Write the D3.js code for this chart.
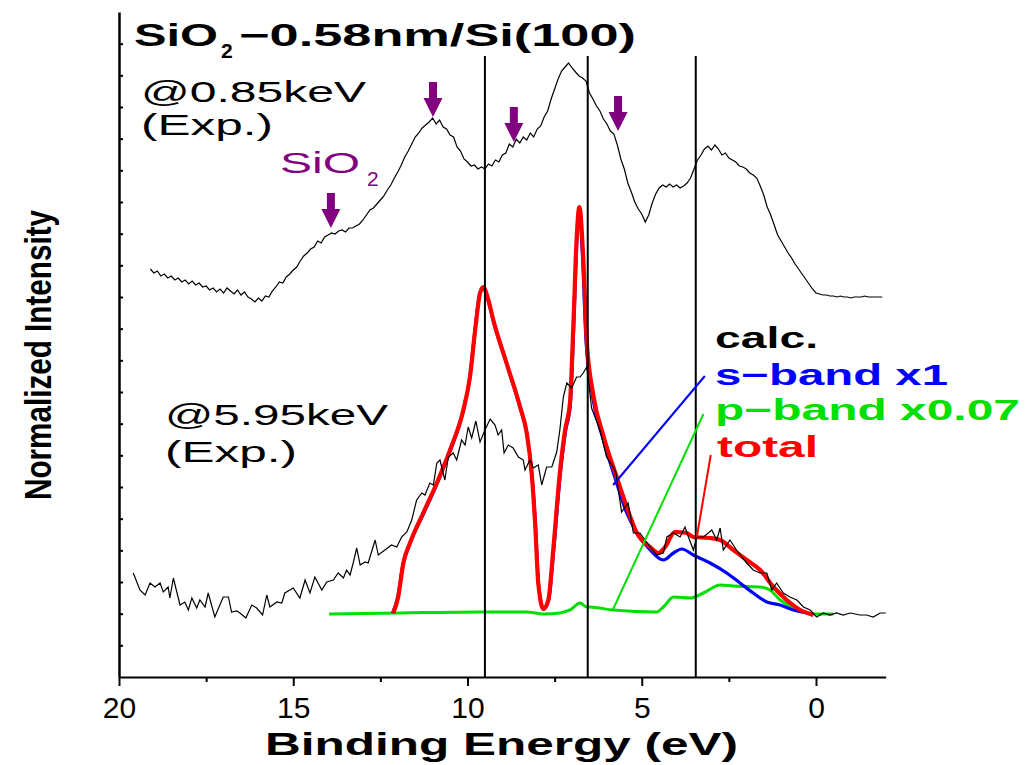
<!DOCTYPE html>
<html><head><meta charset="utf-8">
<script src="https://cdn.jsdelivr.net/npm/d3@7"></script>
<style>body{margin:0;background:#fff}</style>
</head><body><svg id="c" width="1025" height="765"></svg>
<script>
// ---------- data ----------
const xTickMajor = [20, 15, 10, 5, 0];
const xTickMinor = [17.5, 12.5, 7.5, 2.5];
const yMax = 665;            // arbitrary intensity units
const yTickCount = 21;
const markerLines = [9.5, 6.55, 3.45];
const markerTop = 621;

// 0.85 keV experimental spectrum (from 19.1 eV, step 0.1 eV)
const topStartE = 19.1, topStepE = 0.1;
const topH = [
 408,404,406,401,403,399,401,397,399,395,
 397,393,396,392,394,390,391,387,389,385,
 388,384,389,386,383,387,382,385,380,378,
 375,379,376,381,380,386,390,395,394,400,
 403,407,410,416,421,424,428,430,436,434,
 440,442,444,443,446,447,445,449,449,451,
 453,457,462,467,469,473,477,481,487,492,
 499,505,512,520,526,533,540,544,549,552,
 555,559,553,557,550,548,542,540,530,526,
 518,515,511,512,508,510,508,513,511,517,
 515,522,524,533,530,538,534,540,537,544,
 540,548,551,560,566,578,588,598,606,610,
 614,609,605,601,599,596,584,578,571,566,
 558,553,546,543,532,518,508,494,485,475,
 468,463,455,462,474,483,489,492,490,493,
 490,492,489,491,494,499,508,517,522,528,
 531,527,532,528,522,524,519,517,515,511,
 510,508,504,502,499,491,482,470,462,452,
 442,436,430,424,419,413,408,403,398,393,
 388,384,383,382,382,381,381,380,381,380,
 380,379,380,380,380,381,380,380,380,380,
 380];

// 5.95 keV experimental spectrum
const bottomE = [19.59,19.40,19.25,19.11,18.97,18.82,18.73,18.59,18.54,18.44,
 18.25,18.11,18.01,17.91,17.77,17.68,17.53,17.44,17.25,17.01,
 16.86,16.77,16.62,16.53,16.36,16.19,16.05,15.88,15.76,15.67,
 15.47,15.33,15.24,15.00,14.81,14.66,14.52,14.38,14.18,14.04,
 13.85,13.71,13.56,13.47,13.37,13.28,13.18,13.08,12.94,12.85,
 12.65,12.56,12.37,12.18,12.03,11.89,11.74,11.60,11.46,11.31,
 11.22,11.08,10.98,10.88,10.79,10.65,10.55,10.41,10.31,10.17,
 10.07,9.98,9.88,9.76,9.64,9.50,9.35,9.21,9.12,9.02,
 8.95,8.83,8.69,8.54,8.40,8.35,8.21,8.11,7.97,7.87,
 7.73,7.58,7.44,7.35,7.25,7.15,7.01,6.87,6.77,6.68,
 6.58,6.53,6.44,6.20,6.01,5.82,5.74,5.58,5.39,5.24,
 5.05,4.76,4.57,4.38,4.28,4.09,3.90,3.76,3.66,3.52,
 3.42,3.23,2.99,2.85,2.75,2.66,2.47,2.28,2.13,1.99,
 1.80,1.61,1.41,1.27,1.13,0.94,0.75,0.55,0.36,0.17,
 -0.02,-0.21,-0.40,-0.59,-0.78,-0.98,-1.26,-1.45,-1.64,-1.84,
 -2.0];
const bottomH = [104,87,82,94,90,94,85,90,79,99,
 72,75,67,79,69,77,70,84,60,80,
 80,65,66,64,59,72,69,62,82,70,
 75,74,84,89,79,97,84,100,87,95,
 97,104,99,107,102,114,129,112,115,114,
 137,122,127,132,130,140,145,157,177,184,
 182,194,192,214,217,197,220,224,217,237,
 232,250,239,256,235,247,258,252,242,247,
 224,232,229,220,217,207,217,209,212,192,
 210,210,225,247,280,294,289,300,300,304,
 310,297,269,247,220,210,204,165,174,144,
 144,130,122,124,140,144,140,150,140,127,
 140,140,147,137,149,127,137,127,120,114,
 107,104,104,87,94,84,80,77,70,67,
 60,64,62,64,62,64,62,62,60,64,
 64];

// calc. total
const redE = [12.13,11.99,11.84,11.65,11.27,10.88,10.50,10.12,9.93,9.78,
 9.64,9.55,9.40,9.26,8.88,8.49,8.30,8.16,8.06,7.97,
 7.82,7.68,7.54,7.35,7.20,7.06,6.96,6.87,6.79,6.68,
 6.58,6.39,6.10,5.72,5.43,5.14,4.76,4.52,4.33,4.05,
 3.71,3.52,3.04,2.75,2.37,1.99,1.60,1.22,0.84,0.45,0.08];
const redH = [64,80,114,134,164,194,227,267,300,347,
 384,390,377,357,314,270,244,204,154,94,
 68,77,127,204,247,274,354,437,470,420,
 337,282,241,200,170,144,130,124,130,145,
 144,140,139,137,127,117,107,90,77,67,62];
// calc. s-band x1
const blueE = [12.15,12.0,11.85,11.66,11.28,10.89,10.51,10.13,9.94,9.79,
 9.65,9.55,9.40,9.25,8.87,8.48,8.29,8.15,8.05,7.96,
 7.82,7.67,7.53,7.34,7.19,7.05,6.95,6.86,6.79,6.70,
 6.60,6.41,6.10,5.72,5.43,5.14,4.76,4.38,4.09,3.85,
 3.52,3.04,2.56,2.18,1.80,1.41,1.03,0.65,0.27,0.08];
const blueH = [64,80,113,133,162,192,225,265,298,345,
 383,389,375,355,312,268,242,202,152,92,
 68,77,125,202,245,272,352,437,466,420,
 337,280,237,194,164,144,127,117,124,128,
 122,114,104,94,84,75,72,67,64,62];
// calc. p-band x0.07
const greenE = [13.97,11.94,9.56,8.30,7.82,7.35,7.15,7.06,6.77,6.58,
 6.49,5.82,4.57,4.38,4.09,3.61,3.23,2.75,2.37,1.61,
 1.32,1.03,0.65,0.08,-0.50];
const greenH = [63,64,65,65,63,64,66,67,74,70,
 70,67,65,70,80,79,84,92,91,90,
 87,77,70,63,63];

// SiO2 arrows (tip positions)
const arrowE = [13.92, 10.99, 8.67, 5.68];
const arrowH = [449, 560, 535, 546];

// legend leader lines
const leaderColors = ["#0000ff", "#00e000", "#ff0000"];
const leaderFromE = [3.19, 3.23, 3.02];
const leaderFromH = [301, 263, 222];
const leaderToE = [5.82, 5.82, 3.42];
const leaderToH = [192, 68, 140];

const legendLabels = ["calc.", "s\u2212band x1", "p\u2212band x0.07", "total"];
const legendColors = ["#000000", "#0000ff", "#00e000", "#ff0000"];

// ---------- drawing ----------
const svg = d3.select("#c");
const FONT = "'Liberation Sans', Arial, sans-serif";
svg.append("rect").attr("width", 1025).attr("height", 765).attr("fill", "#fff");

const x = d3.scaleLinear().domain([20, -2]).range([119, 885.7]);
const y = d3.scaleLinear().domain([0, yMax]).range([677, 12]);

const pts = (E, H) => E.map((e, i) => [e, H[i]]);
const topE = topH.map((_, i) => +(topStartE - topStepE * i).toFixed(2));

const smooth = d3.line().x(d => x(d[0])).y(d => y(d[1])).curve(d3.curveMonotoneX);
const rough = d3.line().x(d => x(d[0])).y(d => y(d[1]));

// calc curves
svg.append("path").attr("d", smooth(pts(greenE, greenH))).attr("fill", "none")
  .attr("stroke", "#00e000").attr("stroke-width", 3).attr("stroke-linejoin", "round");
svg.append("path").attr("d", smooth(pts(blueE, blueH))).attr("fill", "none")
  .attr("stroke", "#0000ff").attr("stroke-width", 3.2).attr("stroke-linejoin", "round");
svg.append("path").attr("d", smooth(pts(redE, redH))).attr("fill", "none")
  .attr("stroke", "#ff0000").attr("stroke-width", 4.2).attr("stroke-linejoin", "round");

// experimental curves
svg.append("path").attr("d", rough(pts(topE, topH))).attr("fill", "none")
  .attr("stroke", "#000").attr("stroke-width", 1.2);
svg.append("path").attr("d", rough(pts(bottomE, bottomH))).attr("fill", "none")
  .attr("stroke", "#000").attr("stroke-width", 1.2);

// marker lines
svg.selectAll(".mk").data(markerLines).enter().append("line")
  .attr("x1", d => x(d)).attr("x2", d => x(d))
  .attr("y1", y(0)).attr("y2", y(markerTop))
  .attr("stroke", "#000").attr("stroke-width", 2);

// leader lines
leaderColors.forEach((c, i) => {
  svg.append("line")
    .attr("x1", x(leaderFromE[i])).attr("y1", y(leaderFromH[i]))
    .attr("x2", x(leaderToE[i])).attr("y2", y(leaderToH[i]))
    .attr("stroke", c).attr("stroke-width", 2);
});

// arrows
const arrowShape = [[-4,-35],[4,-35],[4,-19],[9.5,-19],[0,0],[-9.5,-19],[-4,-19]];
arrowE.forEach((e, i) => {
  const tx = x(e), ty = y(arrowH[i]);
  svg.append("polygon")
    .attr("points", arrowShape.map(p => [tx + p[0], ty + p[1]].join(",")).join(" "))
    .attr("fill", "#800080");
});

// x axis
const gx = svg.append("g").attr("transform", `translate(0,${y(0)})`);
gx.call(d3.axisBottom(x).tickValues(xTickMajor).tickSize(9).tickSizeOuter(0)
  .tickPadding(11).tickFormat(d3.format("d")));
gx.select(".domain").attr("stroke-width", 2);
gx.selectAll(".tick line").attr("stroke-width", 2);
gx.selectAll(".tick text").attr("font-family", FONT).attr("font-size", 30).attr("fill", "#000");
const gxm = svg.append("g").attr("transform", `translate(0,${y(0)})`);
gxm.call(d3.axisBottom(x).tickValues(xTickMinor).tickSize(5).tickFormat(""));
gxm.select(".domain").remove();
gxm.selectAll(".tick line").attr("stroke-width", 2);

// y axis (inward ticks, no labels)
const yTicks = d3.range(1, yTickCount).map(i => i * yMax / yTickCount);
const gy = svg.append("g").attr("transform", `translate(${x(20)},0)`);
gy.call(d3.axisRight(y).tickValues(yTicks).tickSize(4).tickSizeOuter(0).tickFormat(""));
gy.select(".domain").attr("stroke-width", 2.5);
gy.selectAll(".tick line").attr("stroke-width", 2);

// axis titles
svg.append("text").attr("x", 265).attr("y", 755)
  .attr("textLength", 473).attr("lengthAdjust", "spacingAndGlyphs")
  .attr("font-family", FONT).attr("font-weight", "bold").attr("font-size", 31)
  .text("Binding Energy (eV)");
svg.append("text").attr("transform", "translate(51,500) rotate(-90)")
  .attr("textLength", 290).attr("lengthAdjust", "spacingAndGlyphs")
  .attr("font-family", "'Liberation Sans Narrow', 'Liberation Sans', sans-serif")
  .attr("font-weight", "bold").attr("font-size", 37)
  .text("Normalized Intensity");

// title
function txt(s, xx, yy, size, opts = {}) {
  const t = svg.append("text").attr("x", xx).attr("y", yy)
    .attr("font-family", FONT).attr("font-size", size)
    .attr("font-weight", opts.bold ? "bold" : "normal")
    .attr("fill", opts.fill || "#000").text(s);
  if (opts.len) t.attr("textLength", opts.len).attr("lengthAdjust", "spacingAndGlyphs");
  return t;
}
txt("SiO", 134, 46, 31, {bold: true, len: 84});
txt("2", 221, 58, 21, {bold: true});
txt("\u22120.58nm/Si(100)", 239, 46, 31, {bold: true, len: 397});

// spectrum labels
txt("@0.85keV", 141, 102, 30, {len: 225});
txt("(Exp.)", 141, 135, 30, {len: 132});
txt("@5.95keV", 165, 425, 30, {len: 223});
txt("(Exp.)", 165, 462, 30, {len: 132});
txt("SiO", 280, 173, 29, {fill: "#800080", len: 80});
txt("2", 367, 186, 21, {fill: "#800080"});

// legend
const legendX = [715, 715, 715, 717];
const legendY = [348, 385, 420, 457];
const legendLen = [103, 233, 305, 101];
legendLabels.forEach((s, i) => {
  txt(s, legendX[i], legendY[i], 29, {bold: true, fill: legendColors[i], len: legendLen[i]});
});
</script>
</body></html>
